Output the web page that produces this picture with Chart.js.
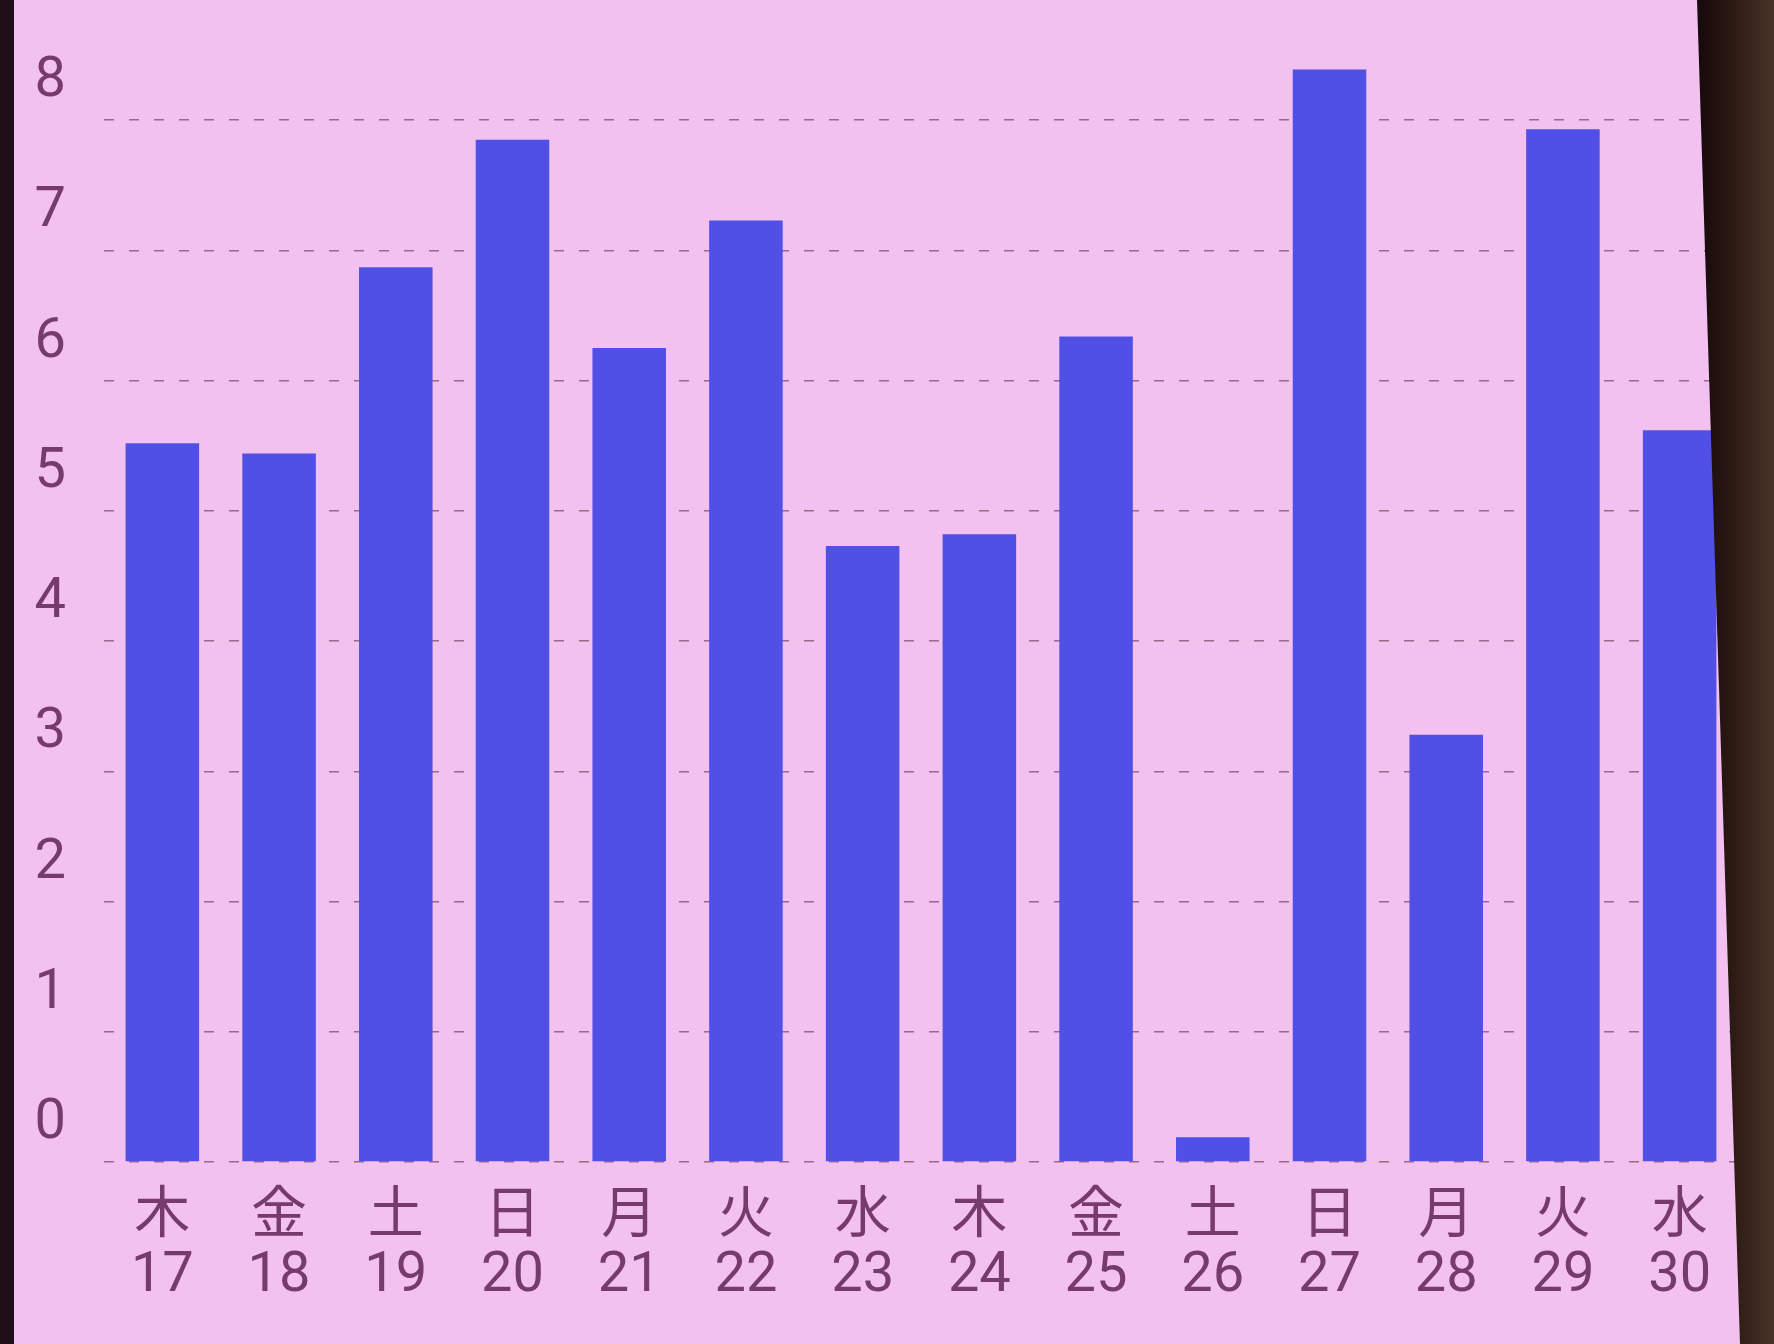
<!DOCTYPE html>
<html lang="ja">
<head>
<meta charset="utf-8">
<title>日別グラフ</title>
<script src="https://cdn.jsdelivr.net/npm/chart.js@4.4.1/dist/chart.umd.min.js"></script>
<style>
    html, body {
        margin: 0;
        padding: 0;
        width: 1774px;
        height: 1344px;
        overflow: hidden;
        background: #f2c1ef;
    }
    #wrap {
        position: absolute;
        left: 0;
        top: -80px;
        width: 1774px;
        height: 1424px;
    }
    #leftEdge {
        position: absolute;
        left: 0;
        top: 0;
        width: 14px;
        height: 1344px;
        background: #1e0e18;
    }
    #rightEdge {
        position: absolute;
        left: 0;
        top: 0;
        width: 1774px;
        height: 1344px;
        background: linear-gradient(90deg, #14080c 0%, #14080c 95.5%, #2a1812 97.5%, #4a3428 100%);
        clip-path: polygon(1697px 0, 1774px 0, 1774px 1344px, 1740px 1344px);
    }
</style>
</head>
<body>
<div id="wrap"><canvas id="dayChart"></canvas></div>
<div id="leftEdge"></div>
<div id="rightEdge"></div>
<script>
    const weekdays = ['木', '金', '土', '日', '月', '火', '水', '木', '金', '土', '日', '月', '火', '水'];
    const dates = ['17', '18', '19', '20', '21', '22', '23', '24', '25', '26', '27', '28', '29', '30'];
    const values = [5.52, 5.44, 6.87, 7.85, 6.25, 7.23, 4.73, 4.82, 6.34, 0.19, 8.39, 3.28, 7.93, 5.62];
    const yTicks = [0, 1, 2, 3, 4, 5, 6, 7, 8, 9];

    const textColor = '#773a6c';
    const labelFont = { family: "Roboto, 'Noto Sans CJK JP', sans-serif", size: 56, lineHeight: 1.05 };

    const ctx = document.getElementById('dayChart').getContext('2d');
    new Chart(ctx, {
        type: 'bar',
        data: {
            labels: weekdays.map((d, i) => [d, dates[i]]),
            datasets: [{
                data: values,
                backgroundColor: '#5050e6',
                borderWidth: 0,
                barPercentage: 0.63,
                categoryPercentage: 1.0
            }]
        },
        options: {
            responsive: true,
            maintainAspectRatio: false,
            animation: false,
            layout: { padding: { top: 70, right: 36, left: 0, bottom: 0 } },
            plugins: {
                legend: { display: false },
                tooltip: { enabled: false }
            },
            scales: {
                x: {
                    grid: { display: false, drawTicks: false },
                    border: { display: false },
                    ticks: {
                        color: textColor,
                        font: labelFont,
                        padding: 27,
                        maxRotation: 0,
                        autoSkip: false
                    },
                    afterFit: s => { s.height = 182; }
                },
                y: {
                    min: yTicks[0],
                    max: yTicks[yTicks.length - 1],
                    grid: { color: '#966a88', lineWidth: 1.6, drawTicks: false },
                    border: { display: false, dash: [10, 15] },
                    ticks: {
                        stepSize: 1,
                        color: textColor,
                        font: labelFont,
                        padding: 38,
                        labelOffset: -38
                    },
                    afterFit: s => { s.width = 104; }
                }
            }
        }
    });
</script>
</body>
</html>
